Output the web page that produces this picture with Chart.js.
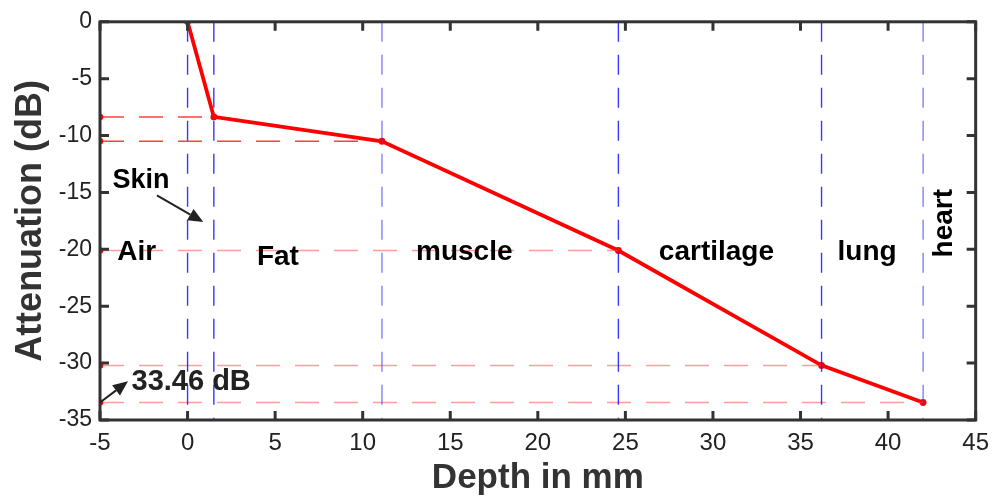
<!DOCTYPE html>
<html>
<head>
<meta charset="utf-8">
<script src="https://cdn.jsdelivr.net/npm/chart.js@4.4.1/dist/chart.umd.min.js"></script>
<style>
  html, body { margin: 0; padding: 0; background: #fff; }
  #wrap { width: 998px; height: 499px; }
</style>
</head>
<body>
<div id="wrap"><canvas id="attChart" width="998" height="499"></canvas></div>
<script>
// tissue boundaries (mm) and attenuation at each boundary (dB)
var depth = [0, 1.5, 11.1, 24.6, 36.2, 42.0];
var atten = [0, -8.36, -10.5, -20.1, -30.2, -33.46];
var tissues = ["Air", "Fat", "muscle", "cartilage", "lung", "heart"];
var xTicks = [-5, 0, 5, 10, 15, 20, 25, 30, 35, 40, 45];
var yTicks = [0, -5, -10, -15, -20, -25, -30, -35];

var X_MIN = -5, X_MAX = 45, Y_MIN = -35, Y_MAX = 0;
var FONT = "'Liberation Sans', Arial, sans-serif";

var datasets = [];

// vertical dashed boundaries
depth.forEach(function (d, i) {
    datasets.push({
        data: [{x: d, y: Y_MAX}, {x: d, y: Y_MIN}],
        borderColor: i < 2 || i === 3 || i === 4 ? "rgba(20,20,255,0.85)" : "rgba(60,60,255,0.65)",
        borderWidth: 1.4,
        borderDash: [20, 13],
        pointRadius: 0,
        showLine: true
    });
});

// horizontal dashed levels from the y axis to each point
atten.forEach(function (a, i) {
    if (i === 0) return;
    datasets.push({
        data: [{x: X_MIN, y: a}, {x: depth[i], y: a}],
        borderColor: i < 3 ? "rgba(255,0,0,0.75)" : "rgba(255,60,60,0.5)",
        borderWidth: 1.5,
        borderDash: [24, 15],
        pointRadius: [2.5, 0],
        pointBackgroundColor: "#ff0000",
        pointBorderColor: "#ff0000",
        showLine: true
    });
});

// attenuation curve
datasets.push({
    data: depth.map(function (d, i) { return {x: d, y: atten[i]}; }),
    borderColor: "#ff0000",
    borderWidth: 3.8,
    pointRadius: 1.5,
    pointBackgroundColor: "#ff0000",
    pointBorderColor: "#ff0000",
    showLine: true
});

function arrow(ctx, x1, y1, x2, y2) {
    var ang = Math.atan2(y2 - y1, x2 - x1), L = 15, W = 6.5;
    ctx.strokeStyle = "#222";
    ctx.fillStyle = "#222";
    ctx.lineWidth = 2;
    ctx.beginPath();
    ctx.moveTo(x1, y1);
    ctx.lineTo(x2 - L * Math.cos(ang), y2 - L * Math.sin(ang));
    ctx.stroke();
    ctx.beginPath();
    ctx.moveTo(x2, y2);
    ctx.lineTo(x2 - L * Math.cos(ang) + W * Math.sin(ang), y2 - L * Math.sin(ang) - W * Math.cos(ang));
    ctx.lineTo(x2 - L * Math.cos(ang) - W * Math.sin(ang), y2 - L * Math.sin(ang) + W * Math.cos(ang));
    ctx.closePath();
    ctx.fill();
}

// box, inward ticks, tissue names and arrows
var decorations = {
    id: "decorations",
    afterDraw: function (chart) {
        var ctx = chart.ctx, a = chart.chartArea;
        var sx = chart.scales.x, sy = chart.scales.y;
        ctx.save();
        ctx.strokeStyle = "#333";
        ctx.lineWidth = 3;
        ctx.strokeRect(a.left, a.top, a.right - a.left, a.bottom - a.top);
        ctx.beginPath();
        xTicks.forEach(function (t) {
            var p = sx.getPixelForValue(t);
            ctx.moveTo(p, a.bottom); ctx.lineTo(p, a.bottom - 9);
            ctx.moveTo(p, a.top); ctx.lineTo(p, a.top + 9);
        });
        yTicks.forEach(function (t) {
            var p = sy.getPixelForValue(t);
            ctx.moveTo(a.left, p); ctx.lineTo(a.left + 9, p);
            ctx.moveTo(a.right, p); ctx.lineTo(a.right - 9, p);
        });
        ctx.stroke();

        ctx.fillStyle = "#000";
        ctx.font = "bold 28px " + FONT;
        ctx.textAlign = "center";
        ctx.textBaseline = "middle";
        var pos = [[-2.9, -20.3], [5.16, -20.7], [15.8, -20.3], [30.2, -20.3], [38.8, -20.3]];
        pos.forEach(function (p, i) {
            ctx.fillText(tissues[i], sx.getPixelForValue(p[0]), sy.getPixelForValue(p[1]));
        });
        ctx.save();
        ctx.translate(sx.getPixelForValue(43.2), sy.getPixelForValue(-17.7));
        ctx.rotate(-Math.PI / 2);
        ctx.fillText(tissues[5], 0, 0);
        ctx.restore();

        ctx.font = "bold 27px " + FONT;
        ctx.fillText("Skin", sx.getPixelForValue(-2.66), sy.getPixelForValue(-13.95));
        arrow(ctx, sx.getPixelForValue(-1.75), sy.getPixelForValue(-15.25),
              sx.getPixelForValue(0.9), sy.getPixelForValue(-17.6));

        ctx.font = "bold 29px " + FONT;
        ctx.textAlign = "left";
        ctx.fillText(Math.abs(atten[5]).toFixed(2) + " dB", sx.getPixelForValue(-3.2), sy.getPixelForValue(-31.7));
        arrow(ctx, sx.getPixelForValue(-5), sy.getPixelForValue(atten[5]),
              sx.getPixelForValue(-3.4), sy.getPixelForValue(-31.6));
        ctx.restore();
    }
};

new Chart("attChart", {
    type: "scatter",
    data: { datasets: datasets },
    options: {
        responsive: false,
        animation: false,
        layout: { padding: { top: 16, right: 22, left: 0, bottom: 0 } },
        plugins: { legend: { display: false }, tooltip: { enabled: false } },
        scales: {
            x: {
                type: "linear",
                min: X_MIN,
                max: X_MAX,
                afterBuildTicks: function (s) { s.ticks = xTicks.map(function (v) { return {value: v}; }); },
                afterFit: function (s) { s.height = 79; },
                grid: { display: false, drawTicks: false },
                border: { display: false },
                ticks: { color: "#222", padding: 9, maxRotation: 0, font: { size: 24, family: FONT } },
                title: { display: true, text: "Depth in mm", color: "#333", padding: { top: 0, bottom: 0 },
                         font: { size: 35, weight: "bold", family: FONT } }
            },
            y: {
                type: "linear",
                min: Y_MIN,
                max: Y_MAX,
                afterBuildTicks: function (s) { s.ticks = yTicks.map(function (v) { return {value: v}; }); },
                afterFit: function (s) { s.width = 100; },
                grid: { display: false, drawTicks: false },
                border: { display: false },
                ticks: { color: "#222", padding: 8, font: { size: 23, family: FONT } },
                title: { display: true, text: "Attenuation (dB)", color: "#333", padding: { top: 9, bottom: 0 },
                         font: { size: 36, weight: "bold", family: FONT } }
            }
        }
    },
    plugins: [decorations]
});
</script>
</body>
</html>
